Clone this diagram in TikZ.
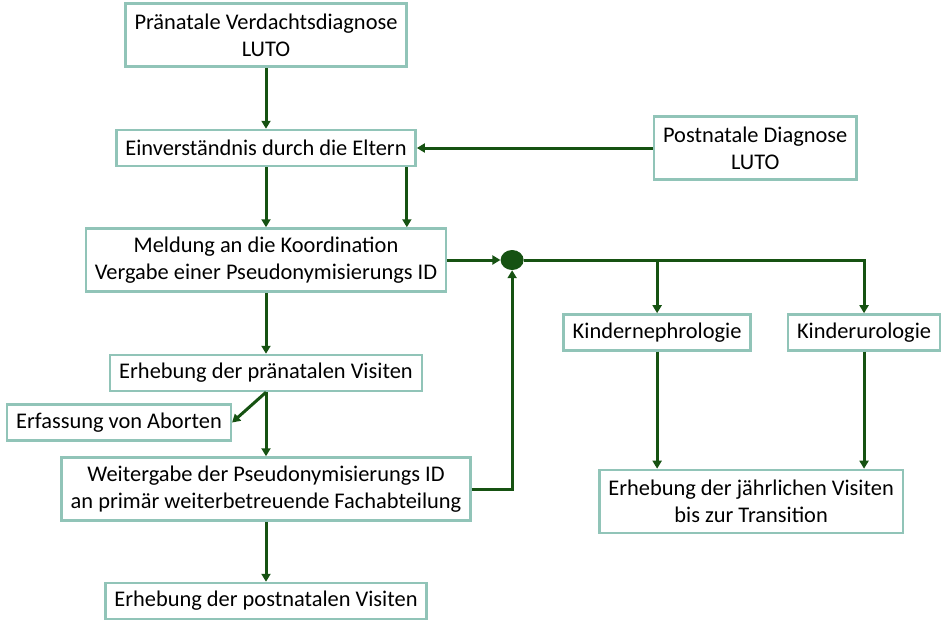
\documentclass[tikz,border=0pt]{standalone}
\usepackage{fontspec}
\setmainfont{Carlito}
\usetikzlibrary{positioning,arrows.meta,shapes.geometric}
\definecolor{boxteal}{RGB}{145,196,184}
\definecolor{linegreen}{RGB}{22,82,18}

\begin{document}
\begin{tikzpicture}[
  x=1pt, y=-1pt,
  >={Triangle[length=8pt,width=9pt]},
  box/.style={draw=boxteal, line width=2.5pt, fill=white, align=center,
    inner xsep=9pt, inner ysep=6pt, minimum height=36pt,
    font=\fontsize{22.4}{27}\selectfont},
  twoline/.style={box, minimum height=63pt},
  flow/.style={->, draw=linegreen, line width=3pt},
  dotnode/.style={ellipse, fill=linegreen, minimum width=23pt, minimum height=20pt, inner sep=0pt}
]
  \useasboundingbox (0,0) rectangle (945,627);

  \node[twoline] (praediag) at (266,35) {Pränatale Verdachtsdiagnose\\LUTO};
  \node[box, below=61pt of praediag] (eltern) {Einverständnis durch die Eltern};
  \node[twoline, below=60pt of eltern] (meldung) {Meldung an die Koordination\\Vergabe einer Pseudonymisierungs ID};
  \node[box, below=61pt of meldung] (praevis) {Erhebung der pränatalen Visiten};
  \node[twoline, below=64pt of praevis] (weiter) {Weitergabe der Pseudonymisierungs ID\\an primär weiterbetreuende Fachabteilung};
  \node[box, below=60pt of weiter] (postvis) {Erhebung der postnatalen Visiten};
  \node[box, below=11pt of praevis, xshift=-147pt] (abort) {Erfassung von Aborten};

  \node[twoline, right=236pt of eltern] (postdiag) {Postnatale Diagnose\\LUTO};
  \node[dotnode, right=53pt of meldung] (hub) {};
  \node[box, below=43pt of hub, xshift=145pt] (neph) {Kindernephrologie};
  \node[box, right=35pt of neph] (uro) {Kinderurologie};
  \node[twoline, below=117pt of neph, xshift=94pt] (jahr) {Erhebung der jährlichen Visiten\\bis zur Transition};

  \draw[flow] (praediag) -- (eltern);
  \draw[flow] (postdiag) -- (eltern);
  \draw[flow] (eltern) -- (meldung);
  \draw[flow] ([xshift=-10pt]eltern.south east) -- ([xshift=-10pt]eltern.south east |- meldung.north);
  \draw[flow] (meldung) -- (hub);
  \draw[flow] (hub.east) -| (uro.north);
  \draw[flow] (hub -| neph) -- (neph);
  \draw[flow] (neph) -- (neph |- jahr.north);
  \draw[flow] (uro) -- (uro |- jahr.north);
  \draw[flow] (meldung) -- (praevis);
  \draw[flow] (praevis.south) -- (abort.east);
  \draw[flow] (praevis) -- (weiter);
  \draw[flow] (weiter.east) -| (hub.south);
  \draw[flow] (weiter) -- (postvis);
\end{tikzpicture}
\end{document}
